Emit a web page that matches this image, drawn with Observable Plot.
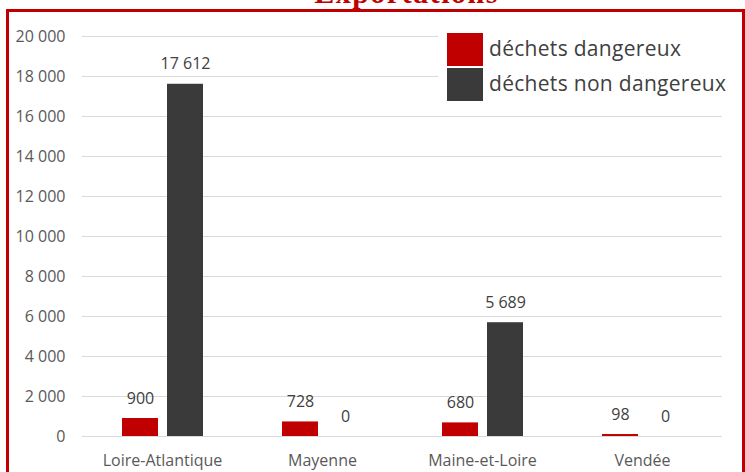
<!DOCTYPE html>
<html>
<head>
<meta charset="utf-8">
<script src="https://cdn.jsdelivr.net/npm/d3@7"></script>
<script src="https://cdn.jsdelivr.net/npm/@observablehq/plot@0.6"></script>
<style>
  html, body { margin: 0; padding: 0; background: #ffffff; }
  #wrap { position: relative; width: 745px; height: 472px; overflow: hidden; background: #ffffff; }
  #frame { position: absolute; left: 6px; top: 9px; width: 739px; height: 520px; box-sizing: border-box; border: 3.5px solid #c00000; }
  #title { position: absolute; left: 406.5px; top: -22px; transform: translateX(-50%); white-space: nowrap;
           font-family: "Liberation Serif", serif; font-weight: bold; font-size: 30px; line-height: 30px;
           letter-spacing: 1.5px; color: #c00000; }
  #chart { position: absolute; left: 0; top: 0; }
  #legend { position: absolute; left: 438px; top: 24px; width: 300px; height: 82px; background: #ffffff; }
  .sw { position: absolute; left: 9px; width: 36px; height: 33px; }
  .lt { position: absolute; left: 51px; font-family: "Open Sans", sans-serif; font-size: 21px; line-height: 21px;
        letter-spacing: 0.3px; color: #404040; white-space: nowrap; }
</style>
</head>
<body>
<div id="wrap">
  <div id="frame"></div>
  <div id="chart"></div>
  <div id="legend"></div>
  <div id="title">Exportations</div>
</div>
<script>
// ---- data ----
const regions = ["Loire-Atlantique", "Mayenne", "Maine-et-Loire", "Vendée"];
const dangereux = [900, 728, 680, 98];
const nonDangereux = [17612, 0, 5689, 0];
const series = ["déchets dangereux", "déchets non dangereux"];
const seriesColors = ["#c00000", "#3a3a3a"];
const yMax = 20000;

const data = regions.flatMap((r, i) => [
  {region: r, type: series[0], value: dangereux[i]},
  {region: r, type: series[1], value: nonDangereux[i]}
]);

const fr = d3.formatLocale({decimal: ",", thousands: "\u00a0", grouping: [3], currency: ["", "€"]});
const fmt = fr.format(",d");
const yTicks = d3.ticks(0, yMax, 10);

const chart = Plot.plot({
  width: 745,
  height: 472,
  marginTop: 36,
  marginBottom: 36,
  marginLeft: 82,
  marginRight: 23,
  style: {fontFamily: "'Open Sans', sans-serif", fontSize: "16px", color: "#595959", background: "transparent"},
  fx: {domain: regions, padding: 0, label: null, axis: "bottom", tickSize: 0, tickPadding: 18},
  x: {domain: series, paddingInner: 0.21, paddingOuter: 0.86, axis: null},
  y: {domain: [0, yMax], ticks: 10, tickFormat: fmt, tickSize: 0, tickPadding: 17, label: null},
  color: {domain: series, range: seriesColors},
  marks: [
    Plot.ruleY(yTicks, {stroke: "#d9d9d9", strokeWidth: 1}),
    Plot.barY(data, {fx: "region", x: "type", y: "value", fill: "type"}),
    Plot.text(data, {fx: "region", x: "type", y: "value", text: d => fmt(d.value),
                     dy: -15, lineAnchor: "bottom", fill: "#404040", fontSize: 16})
  ]
});
document.getElementById("chart").appendChild(chart);

// ---- legend ----
const legend = document.getElementById("legend");
series.forEach((s, i) => {
  const sw = document.createElement("div");
  sw.className = "sw";
  sw.style.top = (9 + i * 35) + "px";
  sw.style.background = seriesColors[i];
  legend.appendChild(sw);
  const t = document.createElement("div");
  t.className = "lt";
  t.style.top = (13.5 + i * 35) + "px";
  t.textContent = s;
  legend.appendChild(t);
});
</script>
</body>
</html>
